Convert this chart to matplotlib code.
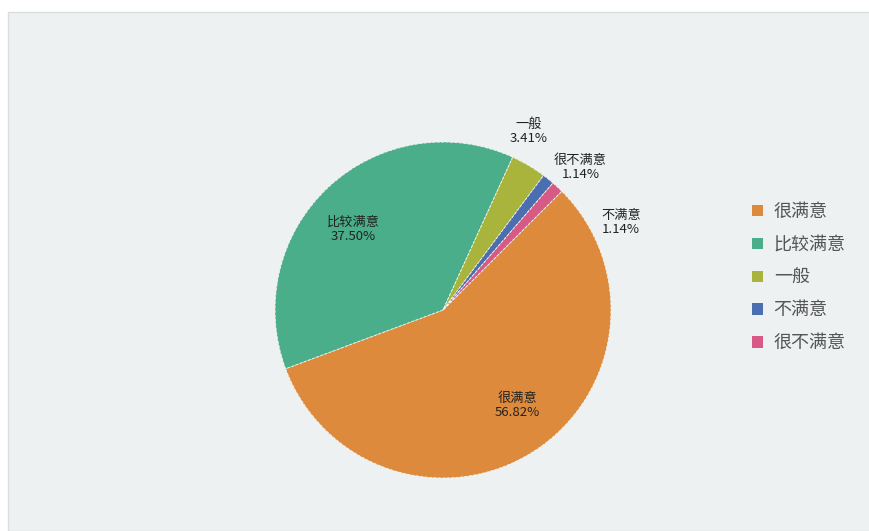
import numpy as np
import matplotlib
matplotlib.use("Agg")
import matplotlib.pyplot as plt
from matplotlib.patches import Rectangle, Patch

plt.rcParams['font.family'] = ['Noto Sans CJK SC', 'DejaVu Sans']

# data
categories = ['很满意', '比较满意', '一般', '不满意', '很不满意']
values = [56.82, 37.50, 3.41, 1.14, 1.14]
colors = ['#de8a3c', '#4aae8a', '#a9b43c', '#4a6eaf', '#d65a84']
# the picture puts the two 1.14% texts the other way round
slice_texts = ['很满意', '比较满意', '一般', '很不满意', '不满意']

W, H = 869, 531
fig = plt.figure(figsize=(W / 100, H / 100), dpi=100)
fig.patch.set_facecolor('white')

# light panel behind the chart
fig.patches.append(Rectangle((8 / W, 0), 1, 1 - 12 / H, transform=fig.transFigure,
                             facecolor='#eef1f1', edgecolor='#d9dddd', lw=1.0, zorder=-5))

R = 170.0
cx, cy = 443, 310
half = 210
ax = fig.add_axes([(cx - half) / W, (H - cy - half) / H, 2 * half / W, 2 * half / H])
ax.set_xlim(-half / R, half / R)
ax.set_ylim(-half / R, half / R)
ax.set_aspect('equal')
ax.axis('off')

wedges, _ = ax.pie(values, colors=colors, startangle=45, counterclock=False,
                   wedgeprops=dict(edgecolor='#f4f4f0', linewidth=0.6, linestyle='--'))

# label offsets (degrees) for the small outside labels
outside_shift = {2: 5, 3: -5, 4: -21}
for i, w in enumerate(wedges):
    mid = np.deg2rad((w.theta1 + w.theta2) / 2)
    txt = f'{slice_texts[i]}\n{values[i]:.2f}%'
    if values[i] > 10:
        r = 0.72
        ang = mid + np.deg2rad(5)
    else:
        r = 1.18
        ang = mid + np.deg2rad(outside_shift[i])
    ax.text(r * np.cos(ang), r * np.sin(ang), txt, ha='center', va='center',
            fontsize=9.5, color='#222222', linespacing=1.1)

handles = [Patch(facecolor=c, edgecolor='none') for c in colors]
leg = fig.legend(handles, categories, loc='upper left', bbox_to_anchor=(752 / W, 1 - 203 / H),
                 frameon=False, fontsize=13, handlelength=0.6, handleheight=0.6,
                 handletextpad=0.6, labelspacing=0.82, borderpad=0, borderaxespad=0,
                 labelcolor='#555555')

fig.savefig('out.png', dpi=100)
